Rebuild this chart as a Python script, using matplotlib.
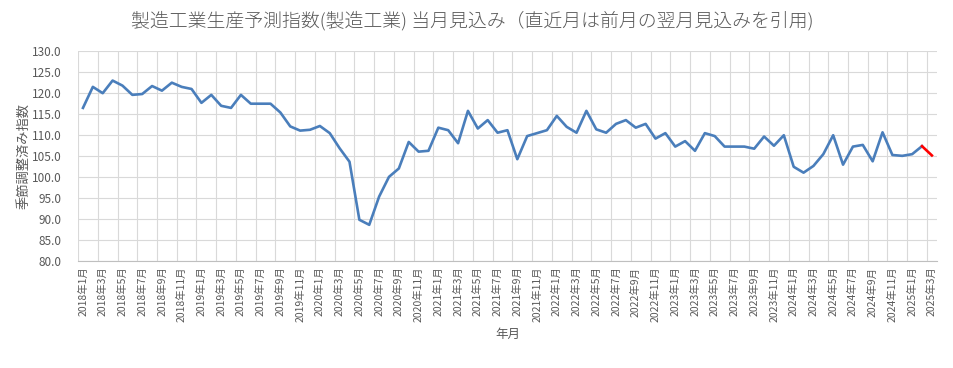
import matplotlib
matplotlib.use("Agg")
import matplotlib.pyplot as plt
import numpy as np

plt.rcParams['font.family'] = ['Noto Sans CJK JP', 'DejaVu Sans']

# 月次データ 2018年1月〜2025年3月
start_year = 2018
values = [
    116.4, 121.4, 119.9, 122.9, 121.7, 119.5, 119.7, 121.6, 120.5, 122.4, 121.4, 120.9,
    117.6, 119.5, 116.9, 116.4, 119.5, 117.4, 117.4, 117.4, 115.3, 112.0, 111.0, 111.2,
    112.1, 110.4, 106.8, 103.6, 89.8, 88.6, 95.3, 100.0, 102.0, 108.3, 106.0, 106.2,
    111.7, 111.1, 108.0, 115.7, 111.5, 113.5, 110.5, 111.1, 104.2, 109.7, 110.4, 111.1,
    114.5, 111.9, 110.5, 115.7, 111.3, 110.5, 112.6, 113.5, 111.7, 112.6, 109.1, 110.4,
    107.2, 108.5, 106.2, 110.4, 109.7, 107.2, 107.2, 107.2, 106.7, 109.6, 107.4, 109.9,
    102.4, 101.0, 102.6, 105.4, 109.9, 102.9, 107.2, 107.6, 103.7, 110.6, 105.2, 105.0,
    105.4, 107.3, 105.1,
]
labels = [f"{start_year + i // 12}年{i % 12 + 1}月" for i in range(len(values))]

title = "製造工業生産予測指数(製造工業) 当月見込み（直近月は前月の翌月見込みを引用)"
text_color = "#595959"

fig = plt.figure(figsize=(9.54, 3.68), dpi=100)
ax = fig.add_axes([0.0818, 0.2908, 0.9002, 0.5714])

x = np.arange(len(values))
ax.plot(x[:-1], values[:-1], color="#4A7EBB", lw=1.9, zorder=3)
ax.plot(x[-2:], values[-2:], color="#FF0000", lw=1.9, zorder=3)

ax.set_xlim(-0.5, len(values) - 0.5)
ax.set_ylim(80, 130)
ax.set_yticks(np.arange(80, 131, 5))
ax.set_yticklabels([f"{v:.1f}" for v in np.arange(80, 131, 5)])
ax.set_xticks(x[::2])
ax.set_xticklabels(labels[::2], rotation=90)
ax.set_xticks(np.arange(-0.5, len(values) - 0.5, 2), minor=True)

ax.grid(axis='y', color="#D9D9D9", lw=0.8, zorder=0)
ax.grid(axis='x', which='minor', color="#D9D9D9", lw=0.8, zorder=0)
ax.tick_params(axis='both', which='both', length=0, colors=text_color)
ax.tick_params(axis='x', labelsize=7.5, pad=4)
ax.tick_params(axis='y', labelsize=8.5, pad=12)

for s in ['top', 'right', 'left']:
    ax.spines[s].set_visible(False)
ax.spines['bottom'].set_color("#BFBFBF")

ax.set_xlabel("年月", color=text_color, fontsize=9, labelpad=4)
ax.set_ylabel("季節調整済み指数", color=text_color, fontsize=9.5, labelpad=1)
fig.text(0.495, 0.945, title, ha='center', va='center', color=text_color,
         fontsize=13.6, fontweight='light')

fig.savefig("out.png", dpi=100)
